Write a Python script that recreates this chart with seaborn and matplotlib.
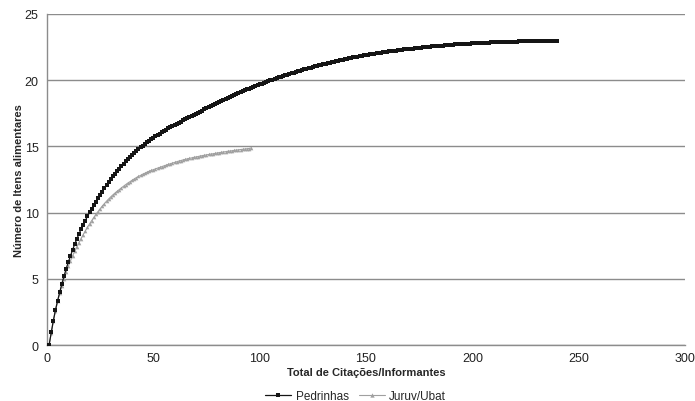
import matplotlib
matplotlib.use("Agg")
import matplotlib.pyplot as plt
import seaborn as sns
import pandas as pd

# ---- data ----
pedrinhas_x = list(range(1, 241))
pedrinhas_y = [
    0.00, 0.95, 1.85, 2.65, 3.35, 4.00, 4.63, 5.20, 5.75, 6.25,
    6.71, 7.16, 7.60, 8.00, 8.38, 8.74, 9.08, 9.40, 9.71, 10.01,
    10.29, 10.56, 10.83, 11.09, 11.34, 11.59, 11.83, 12.06, 12.29, 12.51,
    12.73, 12.94, 13.14, 13.33, 13.52, 13.70, 13.88, 14.05, 14.21, 14.37,
    14.52, 14.66, 14.80, 14.93, 15.06, 15.18, 15.30, 15.42, 15.54, 15.65,
    15.76, 15.87, 15.97, 16.07, 16.17, 16.27, 16.36, 16.45, 16.54, 16.62,
    16.71, 16.80, 16.88, 16.97, 17.05, 17.14, 17.22, 17.30, 17.39, 17.47,
    17.55, 17.63, 17.71, 17.79, 17.87, 17.95, 18.03, 18.11, 18.19, 18.27,
    18.34, 18.42, 18.50, 18.57, 18.65, 18.72, 18.80, 18.87, 18.94, 19.02,
    19.09, 19.16, 19.23, 19.30, 19.37, 19.43, 19.50, 19.56, 19.63, 19.69,
    19.75, 19.81, 19.87, 19.93, 19.98, 20.04, 20.10, 20.15, 20.21, 20.26,
    20.31, 20.37, 20.42, 20.47, 20.52, 20.57, 20.62, 20.67, 20.72, 20.77,
    20.81, 20.86, 20.91, 20.95, 21.00, 21.04, 21.08, 21.12, 21.17, 21.21,
    21.25, 21.29, 21.33, 21.37, 21.40, 21.44, 21.48, 21.51, 21.55, 21.58,
    21.62, 21.65, 21.68, 21.72, 21.75, 21.78, 21.81, 21.84, 21.87, 21.89,
    21.92, 21.95, 21.98, 22.00, 22.03, 22.05, 22.08, 22.10, 22.13, 22.15,
    22.17, 22.20, 22.22, 22.24, 22.26, 22.28, 22.30, 22.32, 22.34, 22.36,
    22.38, 22.39, 22.41, 22.43, 22.45, 22.46, 22.48, 22.50, 22.51, 22.53,
    22.55, 22.56, 22.58, 22.59, 22.60, 22.62, 22.63, 22.65, 22.66, 22.67,
    22.68, 22.70, 22.71, 22.72, 22.73, 22.74, 22.75, 22.76, 22.77, 22.78,
    22.79, 22.80, 22.81, 22.81, 22.82, 22.83, 22.84, 22.84, 22.85, 22.86,
    22.87, 22.87, 22.88, 22.88, 22.89, 22.90, 22.90, 22.91, 22.91, 22.92,
    22.92, 22.93, 22.93, 22.93, 22.94, 22.94, 22.94, 22.95, 22.95, 22.95,
    22.96, 22.96, 22.96, 22.96, 22.96, 22.96, 22.97, 22.97, 22.97, 22.97,
]

juruv_x = list(range(1, 97))
juruv_y = [
    0.00, 0.93, 1.81, 2.60, 3.29, 3.92, 4.49, 5.01, 5.49, 5.93,
    6.34, 6.72, 7.08, 7.42, 7.74, 8.04, 8.33, 8.61, 8.88, 9.14,
    9.39, 9.63, 9.86, 10.08, 10.29, 10.49, 10.68, 10.86, 11.03, 11.19,
    11.34, 11.48, 11.61, 11.74, 11.87, 11.99, 12.11, 12.23, 12.33, 12.44,
    12.54, 12.64, 12.73, 12.81, 12.90, 12.97, 13.05, 13.12, 13.18, 13.24,
    13.30, 13.36, 13.41, 13.47, 13.53, 13.58, 13.64, 13.69, 13.74, 13.79,
    13.84, 13.89, 13.93, 13.98, 14.02, 14.06, 14.10, 14.13, 14.17, 14.20,
    14.23, 14.27, 14.30, 14.33, 14.36, 14.39, 14.42, 14.44, 14.47, 14.50,
    14.53, 14.55, 14.58, 14.60, 14.63, 14.65, 14.67, 14.70, 14.72, 14.74,
    14.76, 14.78, 14.80, 14.82, 14.84, 14.88,
]

series_names = ["Pedrinhas", "Juruv/Ubat"]
x_ticks = [0, 50, 100, 150, 200, 250, 300]
y_ticks = [0, 5, 10, 15, 20, 25]
x_label = "Total de Citações/Informantes"
y_label = "Número de Itens alimentares"

# ---- figure ----
sns.set_style("white")
plt.rcParams["font.family"] = ["Liberation Sans", "DejaVu Sans"]

fig = plt.figure(figsize=(6.95, 4.02), dpi=100)
ax = fig.add_axes([0.0676, 0.1393, 0.918, 0.8234])

df_p = pd.DataFrame({"x": pedrinhas_x, "y": pedrinhas_y})
df_j = pd.DataFrame({"x": juruv_x, "y": juruv_y})

sns.lineplot(data=df_p, x="x", y="y", ax=ax, color="#151515", linewidth=0.9,
             marker="s", markersize=3.0, markeredgewidth=0,
             label=series_names[0], zorder=3)
sns.lineplot(data=df_j, x="x", y="y", ax=ax, color="#a0a0a0", linewidth=0.8,
             marker="^", markersize=2.6, markeredgewidth=0,
             label=series_names[1], zorder=2)

ax.set_xlim(0, 300)
ax.set_ylim(0, 25)
ax.set_xticks(x_ticks)
ax.set_yticks(y_ticks)
ax.yaxis.grid(True, color="#8c8c8c", linewidth=1.0)
ax.xaxis.grid(False)
ax.set_axisbelow(True)

for s in ["top", "right"]:
    ax.spines[s].set_visible(False)
for s in ["left", "bottom"]:
    ax.spines[s].set_color("#8c8c8c")
    ax.spines[s].set_linewidth(1.0)

ax.tick_params(axis="both", which="both", direction="out", length=4,
               width=1.0, color="#8c8c8c", labelsize=9, labelcolor="#222222",
               pad=2)
ax.tick_params(axis="x", pad=1)

ax.set_xlabel(x_label, fontsize=8, fontweight="bold", labelpad=2)
ax.set_ylabel(y_label, fontsize=8, fontweight="bold", labelpad=0.5)

ax.get_legend().remove()
handles, labels = ax.get_legend_handles_labels()
fig.legend(handles, labels, loc="center", bbox_to_anchor=(0.512, 0.012),
           ncol=2, frameon=False, fontsize=8.5, handlelength=2.2,
           columnspacing=0.8, handletextpad=0.4, markerscale=1.2,
           borderpad=0.1)

fig.savefig("out.png", dpi=100)
